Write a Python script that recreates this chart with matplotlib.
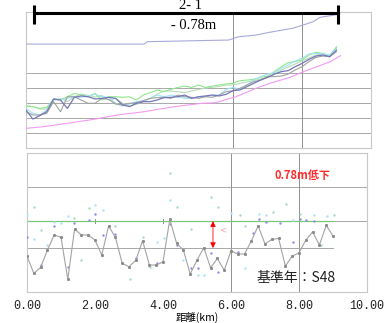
import matplotlib
matplotlib.use("Agg")
import matplotlib.pyplot as plt
import numpy as np

# ---------------- data ----------------
km = [round(0.2 * i, 1) for i in range(46)]  # 0.0 .. 9.0 km sampling positions

# top panel (river-bed elevation profiles, relative units)
purple_x = [0.0, 3.42, 3.52, 5.87, 6.16, 6.66, 7.05, 7.44, 7.73, 8.03, 8.32, 8.52, 8.81, 9.1]
purple_y = [6.93, 6.93, 7.09, 7.2, 7.42, 7.53, 7.71, 7.87, 7.98, 8.2, 8.42, 8.71, 8.82, 8.93]

pink_x = [0.0, 0.49, 1.18, 1.96, 2.65, 3.42, 4.31, 5.1, 5.49, 6.08, 6.67, 7.06, 7.65, 8.04, 8.43, 8.82, 9.12]
pink_y = [1.31, 1.42, 1.64, 1.91, 2.2, 2.42, 2.76, 2.98, 3.02, 3.42, 3.98, 4.31, 4.71, 5.09, 5.42, 5.76, 6.16]

navy_y = [2.53, 1.93, 2.16, 2.42, 3.27, 3.2, 2.64, 3.38, 3.47, 3.42, 3.27, 3.31, 3.38, 3.31, 2.87, 2.76,
          2.98, 3.09, 3.09, 3.2, 3.36, 3.38, 3.42, 3.53, 3.31, 3.42, 3.47, 3.53, 3.47, 3.58, 3.82, 3.87,
          4.09, 4.31, 4.53, 4.71, 4.93, 5.09, 5.16, 5.42, 5.64, 5.91, 6.13, 6.2, 6.09, 6.53]
green_y = [2.8, 2.76, 2.64, 2.71, 3.24, 3.2, 3.42, 3.64, 3.53, 3.42, 3.64, 3.2, 3.42, 3.42, 3.38, 3.42,
           3.2, 3.53, 3.69, 3.87, 3.76, 3.91, 4.04, 4.13, 4.04, 4.2, 4.04, 4.13, 4.2, 4.27, 4.31, 4.49,
           4.53, 4.58, 4.71, 4.8, 5.09, 5.42, 5.69, 5.76, 5.87, 6.2, 6.38, 6.31, 6.09, 6.76]
cyan_y = [2.64, 2.31, 2.2, 2.53, 3.31, 3.2, 3.31, 3.42, 3.38, 3.47, 3.58, 3.42, 3.38, 2.98, 2.8, 2.93,
          3.09, 3.13, 3.31, 3.53, 3.42, 3.53, 3.42, 3.31, 3.31, 3.42, 3.42, 3.53, 3.53, 3.91, 4.04, 3.91,
          4.2, 4.53, 4.76, 4.93, 5.02, 5.31, 5.53, 5.8, 5.98, 6.27, 6.31, 6.27, 6.2, 6.64]
gray_y = [2.42, 2.2, 2.2, 2.31, 3.09, 2.42, 3.42, 3.42, 3.2, 2.98, 2.98, 3.31, 3.24, 2.93, 2.87, 2.98,
          3.02, 3.16, 3.31, 3.36, 3.38, 3.31, 3.53, 3.42, 3.38, 3.31, 3.42, 3.38, 3.53, 3.76, 3.82, 3.98,
          4.2, 4.42, 4.53, 4.76, 4.76, 4.8, 4.93, 5.2, 5.42, 5.76, 6.04, 6.13, 6.09, 6.42]
pale_y = [2.8, 2.76, 2.6, 2.6, 3.2, 3.3, 3.1, 3.4, 3.6, 3.5, 3.4, 3.5, 3.2, 3.3, 3.0, 2.8,
          2.9, 3.1, 3.3, 3.6, 3.8, 3.8, 3.75, 3.7, 3.8, 3.9, 4.0, 4.05, 4.1, 4.2, 4.2, 4.3,
          4.4, 4.5, 4.6, 4.7, 4.9, 5.2, 5.4, 5.6, 5.8, 6.0, 6.2, 6.3, 6.2, 6.7]

# bottom panel (change relative to base year S48, m)
diff_y = [-0.23, -0.73, -0.56, -0.06, 0.38, 0.31, -0.90, 0.55, 0.38, 0.38, 0.23, -0.20, 0.64, 0.31,
          -0.44, -0.54, -0.35, 0.21, -0.49, -0.49, -0.40, 0.83, 0.14, -0.06, -0.75, -0.35, 0.01,
          -0.57, -0.30, -0.64, -0.08, -0.17, -0.17, 0.21, 0.64, 0.12, 0.25, 0.28, -0.52, -0.23,
          -0.14, 0.23, 0.47, 0.09, 0.66, 0.35]

blue_pts_x = [0.0, 0.41, 0.78, 1.2, 1.39, 1.81, 2.0, 2.24, 2.6, 3.22, 3.82, 4.2, 4.41, 4.82, 5.02,
              5.41, 5.61, 6.2, 6.64, 6.83, 7.03, 7.43, 7.82, 8.02, 8.22, 8.43]
blue_pts_y = [0.31, -0.49, 0.64, -0.54, 0.73, 0.81, 0.98, 0.38, 0.42, -0.30, -0.44, 0.69, 0.09, -0.59,
              -0.59, -0.15, -0.68, -0.11, 0.44, 0.83, 0.76, 0.73, 0.18, 0.83, 0.81, 0.78]
cyan_pts_x = [0.0, 0.2, 0.59, 0.78, 1.0, 1.2, 2.0, 2.24, 3.82, 4.02, 4.2, 4.6, 5.02, 5.22, 6.0,
              6.42, 6.83, 7.03, 7.82, 8.43, 8.82]
cyan_pts_y = [0.97, 0.25, 0.09, 0.76, 0.73, 0.92, 1.24, 1.10, 0.18, 0.28, 1.39, -0.35, -0.78, -0.78,
              1.02, -0.59, 1.00, 0.97, 0.81, 0.96, 0.92]
teal_pts_x = [0.2, 0.41, 1.39, 1.6, 1.81, 2.6, 3.02, 3.41, 3.63, 4.2, 4.41, 4.82, 5.41, 5.61, 6.25,
              6.42, 7.23, 7.63, 8.02, 8.65, 9.02]
teal_pts_y = [1.19, 0.52, 0.86, -0.35, 1.15, 0.64, -0.88, 0.31, -0.54, 2.16, 1.19, 0.54, 1.48, 1.18,
              0.97, 0.64, 1.05, 1.27, 1.00, 0.09, 0.96]

drop = 0.78
xticks = [0, 2, 4, 6, 8, 10]
xticklabels = ["0.00", "2.00", "4.00", "6.00", "8.00", "10.00"]

# ---------------- figure ----------------
W, H = 386, 323
fig = plt.figure(figsize=(W / 100, H / 100), dpi=100)
fig.patch.set_facecolor("white")

frame_c = "#c8c8c8"
grid_c = "#a8a8a8"

# ---- top panel ----
ax1 = fig.add_axes([26 / W, (H - 148) / H, (371 - 26) / W, (148 - 12) / H])
ax1.set_xlim(0, 10)
ax1.set_ylim(0, 9.07)
ax1.set_xticks([]); ax1.set_yticks([])
for s in ax1.spines.values():
    s.set_color(frame_c); s.set_linewidth(0.8)
for v in [1, 2, 3, 4, 5]:
    ax1.axhline(v, color=grid_c, lw=0.7, zorder=1)
for v in [6, 8]:
    ax1.axvline(v, color="#909090", lw=0.7, zorder=1)

ax1.plot(purple_x, purple_y, color="#a9a9d9", lw=0.8, zorder=3)
ax1.plot(pink_x, pink_y, color="#f39af3", lw=0.8, zorder=3)
ax1.plot(km, pale_y, color="#b9dcb9", lw=0.8, zorder=3)
ax1.plot(km, green_y, color="#8ee88e", lw=0.8, zorder=3)
ax1.plot(km, cyan_y, color="#9fe3f5", lw=0.8, zorder=3)
ax1.plot(km, gray_y, color="#a0a0a0", lw=0.8, zorder=3)
ax1.plot(km, navy_y, color="#7676b8", lw=0.9, zorder=4)

# section bar "2-1"
ax1.plot([0.23, 9.04], [9.0, 9.0], color="black", lw=2.2, clip_on=False, zorder=6,
         solid_capstyle="butt")
for xx in [0.23, 9.04]:
    ax1.plot([xx, xx], [8.27, 9.55], color="black", lw=2.2, clip_on=False, zorder=6,
             solid_capstyle="butt")
ax1.text(4.76, 9.5, "2- 1", ha="center", va="center", fontsize=10.5,
         family="Liberation Serif", clip_on=False)
ax1.text(4.85, 8.2, "- 0.78m", ha="center", va="center", fontsize=10.5,
         family="Liberation Serif")

# ---- bottom panel ----
ax2 = fig.add_axes([27 / W, (H - 292) / H, 340 / W, (292 - 153) / H])
ax2.set_xlim(0, 10)
ax2.set_ylim(-1.27, 2.75)
ax2.set_yticks([])
ax2.set_xticks(xticks)
ax2.set_xticklabels(xticklabels, family="Liberation Mono", fontsize=8.5, color="#222222")
ax2.tick_params(axis="x", length=0, pad=6)
for s in ax2.spines.values():
    s.set_color(frame_c); s.set_linewidth(0.8)

ax2.axhline(1.76, color=grid_c, lw=0.7, zorder=1)
ax2.axhline(drop, color=grid_c, lw=0.7, zorder=1)
for v in [6, 8]:
    ax2.axvline(v, color="#909090", lw=0.7, zorder=1)
for v in [2, 4]:
    ax2.plot([v, v], [drop - 0.05, drop + 0.05], color="#909090", lw=0.7, zorder=1)
ax2.plot([0, 9.0], [0, 0], color=grid_c, lw=0.7, zorder=1)
ax2.plot([0, 9.0], [drop, drop], color="#78c878", lw=0.9, zorder=2)

ax2.scatter(teal_pts_x, teal_pts_y, s=3, color="#a8d8c4", lw=0, zorder=3)
ax2.scatter(cyan_pts_x, cyan_pts_y, s=3, color="#a6e6f8", lw=0, zorder=3)
ax2.scatter(blue_pts_x, blue_pts_y, s=3, color="#8c8cec", lw=0, zorder=3)
ax2.plot(km, diff_y, color="#a4a4a4", lw=0.8, marker="s", ms=1.1,
         mfc="#8a8a8a", mec="#8a8a8a", zorder=4)

# red drop arrow
ax2.annotate("", xy=(5.47, 0.0), xytext=(5.47, drop),
             arrowprops=dict(arrowstyle="<|-|>", color="red", lw=0.6,
                             mutation_scale=8, shrinkA=0, shrinkB=0), zorder=6)
ax2.text(5.75, 0.52, "<", color="#f4a0a0", fontsize=6, ha="center", va="center")

ax2.text(8.1, 2.1, "0.78m低下", color="#ff2a2a", fontsize=8, ha="center", va="center",
         family=["Noto Sans CJK JP", "DejaVu Sans"], fontweight="bold")
ax2.text(7.9, -0.87, "基準年：S48", color="#222222", fontsize=10, ha="center", va="center",
         family=["Noto Sans CJK JP", "DejaVu Sans"])
ax2.set_xlabel("距離(km)", family=["Noto Sans CJK JP", "DejaVu Sans"], fontsize=7.5,
               labelpad=0)

fig.savefig("out.png", dpi=100, facecolor="white")
